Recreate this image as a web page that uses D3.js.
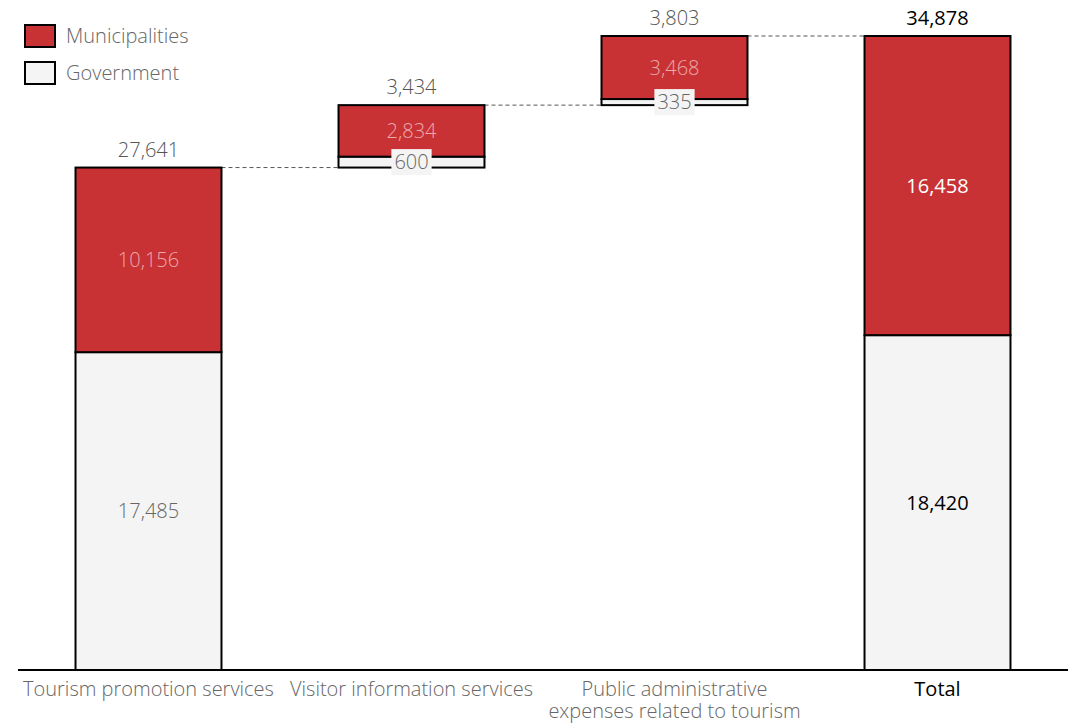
<!DOCTYPE html>
<html><head><meta charset="utf-8">
<script src="https://cdn.jsdelivr.net/npm/d3@7"></script>
<style>
body{margin:0;background:#fff;}
text{font-family:"Open Sans",sans-serif;font-weight:300;}
</style></head>
<body><svg id="c" width="1068" height="725"></svg>
<script>
const categories = ["Tourism promotion services","Visitor information services","Public administrative expenses related to tourism","Total"];
const categoryLines = [["Tourism promotion services"],["Visitor information services"],["Public administrative","expenses related to tourism"],["Total"]];
const government = [17485, 600, 335, 18420];
const municipalities = [10156, 2834, 3468, 16458];
const isTotal = [false,false,false,true];
const seriesNames = ["Municipalities","Government"];
const colors = {Municipalities:"#c83235", Government:"#f4f4f4"};

const svg = d3.select("#c");
const W=1068, H=725, baseY=670, topY=36, FS=20;
const x = d3.scaleBand().domain(categories).range([17,1069]).paddingInner(0.445).paddingOuter(0.2225);
const totalMax = government[3]+municipalities[3];
const y = d3.scaleLinear().domain([0,totalMax]).range([baseY,topY]);
const fmt = d3.format(",");

let running=0;
const rows = categories.map((c,i)=>{
  const base = isTotal[i]?0:running;
  const g=government[i], m=municipalities[i];
  if(!isTotal[i]) running += g+m;
  return {c,i,base,g,m,top:base+g+m,total:isTotal[i]};
});

for(let i=0;i<rows.length-1;i++){
  const r=rows[i], n=rows[i+1];
  svg.append("line").attr("x1",x(r.c)+x.bandwidth()).attr("x2",x(n.c))
    .attr("y1",y(r.top)).attr("y2",y(r.top))
    .attr("stroke","#555").attr("stroke-width",1).attr("stroke-dasharray","4,3");
}

svg.append("line").attr("x1",18).attr("x2",1068).attr("y1",baseY).attr("y2",baseY).attr("stroke","#000").attr("stroke-width",2);

const bars = svg.selectAll("g.bar").data(rows).enter().append("g").attr("class","bar");
bars.append("rect").attr("x",d=>x(d.c)).attr("width",x.bandwidth())
  .attr("y",d=>y(d.base+d.g)).attr("height",d=>y(d.base)-y(d.base+d.g))
  .attr("fill",colors.Government).attr("stroke","#000").attr("stroke-width",2);
bars.append("rect").attr("x",d=>x(d.c)).attr("width",x.bandwidth())
  .attr("y",d=>y(d.top)).attr("height",d=>y(d.base+d.g)-y(d.top))
  .attr("fill",colors.Municipalities).attr("stroke","#000").attr("stroke-width",2);

bars.each(function(d){
  const g=d3.select(this), cx=x(d.c)+x.bandwidth()/2;
  g.append("text").attr("x",cx).attr("y",y(d.top)-11).attr("text-anchor","middle")
    .attr("font-size",FS).attr("fill",d.total?"#000":"#555")
    .style("font-weight",d.total?400:300).text(fmt(d.total?d.top:d.g+d.m));
  g.append("text").attr("x",cx).attr("y",(y(d.top)+y(d.base+d.g))/2).attr("dy","0.35em")
    .attr("text-anchor","middle").attr("font-size",FS)
    .attr("fill",d.total?"#fff":"#eba8a9").style("font-weight",d.total?400:300).text(fmt(d.m));
  const gy=(y(d.base)+y(d.base+d.g))/2;
  const t=g.append("text").attr("x",cx).attr("y",gy).attr("dy","0.35em")
    .attr("text-anchor","middle").attr("font-size",FS)
    .attr("fill",d.total?"#000":"#666").style("font-weight",d.total?400:300).text(fmt(d.g));
  const bb=t.node().getBBox();
  g.insert("rect",()=>t.node()).attr("x",bb.x-3).attr("y",gy-13).attr("width",bb.width+6).attr("height",26).attr("fill","#f4f4f4");
});

categoryLines.forEach((lines,i)=>{
  const cx=x(categories[i])+x.bandwidth()/2;
  const t=svg.append("text").attr("text-anchor","middle").attr("font-size",FS)
    .attr("fill",isTotal[i]?"#000":"#666").style("font-weight",isTotal[i]?400:300);
  lines.forEach((l,j)=>t.append("tspan").attr("x",cx).attr("y",696+j*22).text(l));
});

seriesNames.forEach((s,i)=>{
  svg.append("rect").attr("x",25).attr("y",25+i*37).attr("width",30).attr("height",22)
    .attr("fill",colors[s]).attr("stroke","#000").attr("stroke-width",2);
  svg.append("text").attr("x",66).attr("y",43+i*37).attr("font-size",FS).attr("fill","#666").text(s);
});
</script></body></html>
